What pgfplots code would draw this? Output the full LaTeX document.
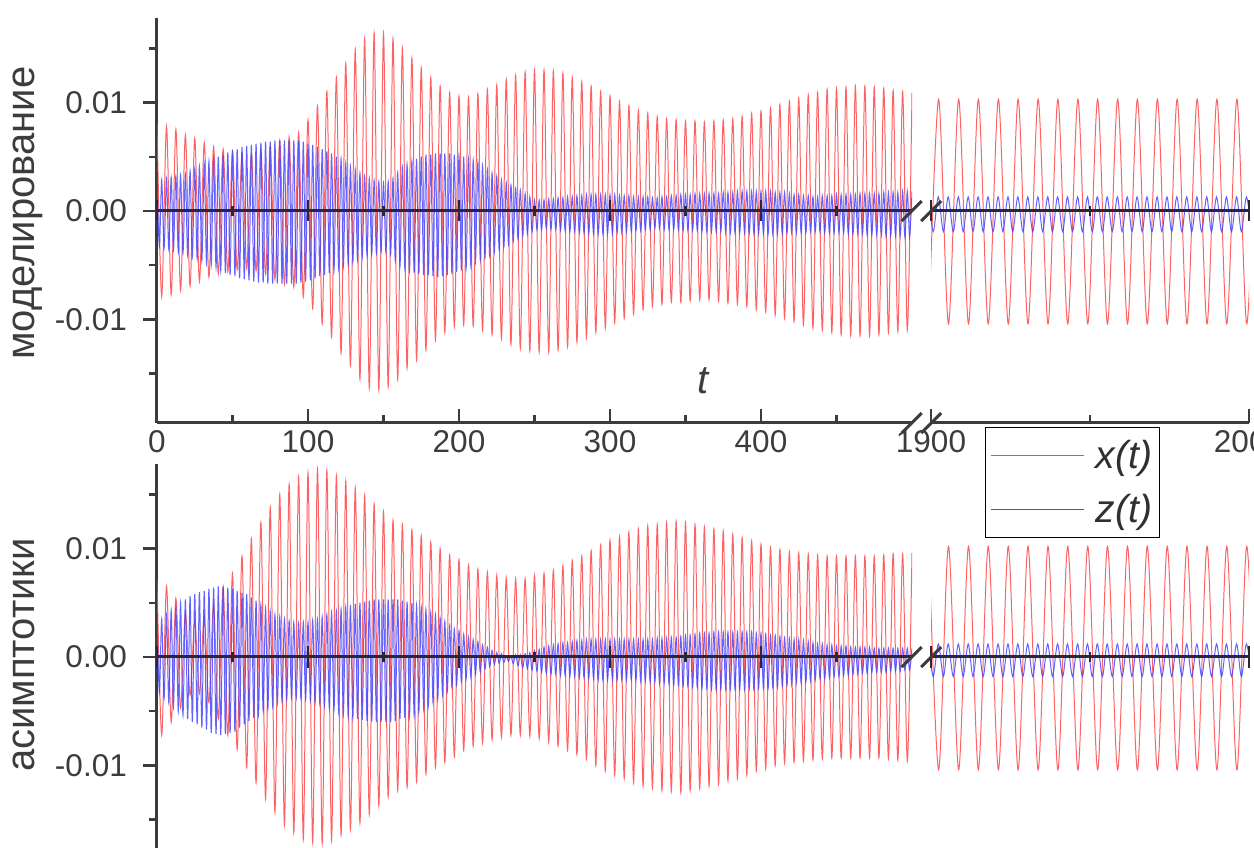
\documentclass[border=0pt]{standalone}
\usepackage{fontspec}
\setmainfont{Liberation Sans}
\usepackage{pgfplots}
\pgfplotsset{compat=1.18}
\definecolor{xred}{RGB}{255,70,70}
\definecolor{zblue}{RGB}{70,70,255}
\definecolor{axcol}{RGB}{60,60,60}
\definecolor{zerocol}{RGB}{40,40,55}
\pgfplotsset{
  seg/.style={scale only axis, height=405pt, ymin=-19.54, ymax=17.79, clip=true},
  frame/.style={seg, axis x line*=bottom, xtick pos=bottom, xtick align=inside,
    x axis line style={-, line width=3pt, color=axcol},
    y axis line style={-, line width=3pt, color=axcol},
    major tick length=14pt, minor tick length=8pt,
    tick style={line width=2.5pt, color=axcol},
    tick label style={font=\fontsize{31.5}{36}\selectfont, color=axcol},
    /pgf/number format/assume math mode=true, /pgf/number format/1000 sep={},
    xticklabel style={inner sep=0pt, yshift=-7pt}},
  frameL/.style={frame, width=755pt, xmin=0, xmax=500,
    axis y line*=left, ytick pos=left, ytick align=outside,
    xtick={0,100,...,400}, minor xtick={50,150,...,450},
    ytick={-10,0,10}, yticklabels={-0.01,0.00,0.01}, minor ytick={-15,-5,5,15},
    yticklabel style={inner sep=0pt, xshift=-16pt},
    ylabel style={font=\fontsize{40}{44}\selectfont, color=axcol, anchor=base}},
  frameR/.style={frame, width=318pt, xmin=1900, xmax=2000, axis y line=none,
    ytick=\empty, xtick={1900,2000}, minor xtick={1950}},
  data/.style={seg, axis x line*=middle, axis y line=none, axis on top,
    ytick=\empty, xticklabels=\empty, xtick align=center,
    major tick length=21pt, minor tick length=10pt,
    x axis line style={-, line width=3pt, color=zerocol},
    tick style={line width=2.5pt, color=zerocol}},
  dataL/.style={data, width=755pt, xmin=0, xmax=500,
    xtick={0,100,...,400}, minor xtick={50,150,...,450}},
  dataR/.style={data, width=318pt, xmin=1900, xmax=2000,
    xtick={1900,2000}, minor xtick={1950}},
  xr/.style={xred, line width=1pt, smooth, mark=none, draw opacity=0.85},
  zb/.style={zblue, line width=1pt, smooth, mark=none, draw opacity=0.85},
}
\begin{document}
\begin{tikzpicture}
\useasboundingbox (0,0) rectangle (1254pt,848pt);
\clip (0,0) rectangle (1254pt,848pt);

%================ BOTTOM PANEL (asymptotics) ================
\begin{axis}[frameL, at={(157pt,-21pt)}, anchor=south west, xticklabels=\empty,
  ylabel={асимптотики}, ylabel style={at={(axis description cs:-0.1616,0.528)}}]
\end{axis}
\begin{axis}[frameR, at={(931pt,-21pt)}, anchor=south west, xticklabels=\empty]
\end{axis}
\begin{axis}[dataL, at={(157pt,-21pt)}, anchor=south west]
\addplot[xr] coordinates {
(0,7)(3.1,-7.2)(6.3,6.5)(9.4,-6)(12.5,5.4)(15.6,-4.7)(18.8,4.1)(21.9,-3.5)
(25,3.3)(28.1,-3.4)(31.3,3.8)(34.4,-4.2)(37.5,4.9)(40.6,-5.7)(43.8,6.5)(46.9,-7.2)
(50,7.7)(53.1,-8.5)(56.3,9.3)(59.4,-10.2)(62.5,10.9)(65.6,-11.6)(68.8,12.4)(71.9,-13.1)
(75,13.8)(78.1,-14.3)(81.3,15)(84.4,-15.5)(87.5,15.9)(90.6,-16.2)(93.8,16.6)(96.9,-16.8)
(100,17)(103.1,-17.1)(106.3,17.3)(109.4,-17.2)(112.5,17.2)(115.6,-16.9)(118.8,16.7)(121.9,-16.4)
(125,16.2)(128.1,-15.9)(131.3,15.6)(134.4,-15.3)(137.5,14.9)(140.6,-14.5)(143.8,14.1)(146.9,-13.7)
(150,13.4)(153.1,-12.9)(156.3,12.6)(159.4,-12.3)(162.5,12.2)(165.6,-12)(168.8,11.7)(171.9,-11.5)
(175,11.2)(178.1,-10.8)(181.3,10.6)(184.4,-10.2)(187.5,10)(190.6,-9.7)(193.8,9.4)(196.9,-9.2)
(200,9)(203.1,-8.6)(206.3,8.5)(209.4,-8.2)(212.5,8.1)(215.6,-7.9)(218.8,7.8)(221.9,-7.6)
(225,7.5)(228.1,-7.4)(231.3,7.3)(234.4,-7.2)(237.5,7.2)(240.6,-7.2)(243.8,7.2)(246.9,-7.3)
(250,7.5)(253.1,-7.5)(256.3,7.7)(259.4,-7.8)(262.5,8)(265.6,-8.2)(268.8,8.4)(271.9,-8.6)
(275,8.9)(278.1,-9)(281.3,9.3)(284.4,-9.4)(287.5,9.8)(290.6,-10)(293.8,10.3)(296.9,-10.5)
(300,10.8)(303.1,-10.9)(306.3,11.1)(309.4,-11.2)(312.5,11.5)(315.6,-11.6)(318.8,11.8)(321.9,-11.9)
(325,12.1)(328.1,-12.1)(331.3,12.2)(334.4,-12.3)(337.5,12.4)(340.6,-12.4)(343.8,12.5)(346.9,-12.5)
(350,12.4)(353.1,-12.3)(356.3,12.2)(359.4,-12.1)(362.5,12)(365.6,-11.9)(368.8,11.8)(371.9,-11.7)
(375,11.6)(378.1,-11.4)(381.3,11.3)(384.4,-11.2)(387.5,11)(390.6,-10.9)(393.8,10.7)(396.9,-10.5)
(400,10.4)(403.1,-10.3)(406.3,10.1)(409.4,-10)(412.5,9.9)(415.6,-9.8)(418.8,9.7)(421.9,-9.7)
(425,9.6)(428.1,-9.6)(431.3,9.5)(434.4,-9.5)(437.5,9.4)(440.6,-9.4)(443.8,9.3)(446.9,-9.3)
(450,9.3)(453.1,-9.3)(456.3,9.3)(459.4,-9.3)(462.5,9.3)(465.6,-9.3)(468.8,9.3)(471.9,-9.3)
(475,9.3)(478.1,-9.3)(481.3,9.4)(484.4,-9.4)(487.5,9.5)(490.6,-9.5)(493.8,9.5)(496.9,-9.6)
(500,9.6)};
\addplot[zb] coordinates {
(0,3.2)(1.6,-3.3)(3.1,3.5)(4.7,-3.8)(6.3,3.9)(7.8,-4.2)(9.4,4.3)(10.9,-4.6)
(12.5,4.6)(14.1,-5)(15.6,5)(17.2,-5.4)(18.8,5.3)(20.3,-5.7)(21.9,5.6)(23.4,-6)
(25,5.8)(26.6,-6.2)(28.1,6)(29.7,-6.5)(31.3,6.1)(32.8,-6.7)(34.4,6.3)(35.9,-7)
(37.5,6.4)(39.1,-7.1)(40.6,6.5)(42.2,-7.2)(43.8,6.5)(45.3,-7.1)(46.9,6.4)(48.4,-7)
(50,6.3)(51.6,-6.9)(53.1,6.1)(54.7,-6.5)(56.3,5.9)(57.8,-6.2)(59.4,5.8)(60.9,-5.9)
(62.5,5.5)(64.1,-5.6)(65.6,5.2)(67.2,-5.3)(68.8,4.8)(70.3,-5)(71.9,4.5)(73.4,-4.8)
(75,4.2)(76.6,-4.5)(78.1,3.9)(79.7,-4.3)(81.3,3.7)(82.8,-4.1)(84.4,3.5)(85.9,-3.9)
(87.5,3.3)(89.1,-3.8)(90.6,3.2)(92.2,-3.8)(93.8,3.1)(95.3,-3.8)(96.9,3.2)(98.4,-3.9)
(100,3.2)(101.6,-4)(103.1,3.4)(104.7,-4.2)(106.3,3.5)(107.8,-4.3)(109.4,3.7)(110.9,-4.5)
(112.5,3.9)(114.1,-4.7)(115.6,4.1)(117.2,-4.9)(118.8,4.2)(120.3,-5.1)(121.9,4.4)(123.4,-5.3)
(125,4.6)(126.6,-5.5)(128.1,4.8)(129.7,-5.6)(131.3,4.9)(132.8,-5.7)(134.4,5)(135.9,-5.8)
(137.5,5.1)(139.1,-5.9)(140.6,5.2)(142.2,-5.9)(143.8,5.3)(145.3,-6)(146.9,5.3)(148.4,-6)
(150,5.3)(151.6,-6)(153.1,5.3)(154.7,-6)(156.3,5.3)(157.8,-5.9)(159.4,5.3)(160.9,-5.7)
(162.5,5.2)(164.1,-5.6)(165.6,5.1)(167.2,-5.5)(168.8,5)(170.3,-5.4)(171.9,4.8)(173.4,-5.1)
(175,4.6)(176.6,-4.8)(178.1,4.4)(179.7,-4.5)(181.3,4.1)(182.8,-4.2)(184.4,3.9)(185.9,-3.9)
(187.5,3.6)(189.1,-3.5)(190.6,3.3)(192.2,-3.2)(193.8,2.9)(195.3,-2.8)(196.9,2.6)(198.4,-2.6)
(200,2.4)(201.6,-2.3)(203.1,2.1)(204.7,-2)(206.3,1.8)(207.8,-1.8)(209.4,1.6)(210.9,-1.6)
(212.5,1.4)(214.1,-1.4)(215.6,1.1)(217.2,-1.1)(218.8,0.9)(220.3,-0.9)(221.9,0.6)(223.4,-0.7)
(225,0.4)(226.6,-0.6)(228.1,0.3)(229.7,-0.5)(231.3,0.1)(232.8,-0.4)(234.4,0.1)(235.9,-0.6)
(237.5,0.2)(239.1,-0.8)(240.6,0.2)(242.2,-1)(243.8,0.3)(245.3,-1.1)(246.9,0.4)(248.4,-1.2)
(250,0.6)(251.6,-1.3)(253.1,0.7)(254.7,-1.4)(256.3,0.9)(257.8,-1.5)(259.4,1)(260.9,-1.6)
(262.5,1.1)(264.1,-1.6)(265.6,1.2)(267.2,-1.7)(268.8,1.3)(270.3,-1.7)(271.9,1.3)(273.4,-1.8)
(275,1.4)(276.6,-1.8)(278.1,1.5)(279.7,-1.9)(281.3,1.5)(282.8,-1.9)(284.4,1.6)(285.9,-2)
(287.5,1.6)(289.1,-2)(290.6,1.6)(292.2,-2.1)(293.8,1.6)(295.3,-2.1)(296.9,1.6)(298.4,-2.1)
(300,1.6)(301.6,-2.1)(303.1,1.6)(304.7,-2.1)(306.3,1.6)(307.8,-2.1)(309.4,1.6)(310.9,-2.1)
(312.5,1.6)(314.1,-2.1)(315.6,1.6)(317.2,-2.1)(318.8,1.6)(320.3,-2.2)(321.9,1.6)(323.4,-2.2)
(325,1.6)(326.6,-2.3)(328.1,1.6)(329.7,-2.3)(331.3,1.7)(332.8,-2.4)(334.4,1.7)(335.9,-2.4)
(337.5,1.7)(339.1,-2.5)(340.6,1.8)(342.2,-2.6)(343.8,1.8)(345.3,-2.6)(346.9,1.9)(348.4,-2.7)
(350,2)(351.6,-2.7)(353.1,2)(354.7,-2.8)(356.3,2.1)(357.8,-2.8)(359.4,2.2)(360.9,-2.9)
(362.5,2.2)(364.1,-2.9)(365.6,2.2)(367.2,-3)(368.8,2.3)(370.3,-3)(371.9,2.3)(373.4,-3)
(375,2.3)(376.6,-3)(378.1,2.3)(379.7,-3)(381.3,2.3)(382.8,-3)(384.4,2.3)(385.9,-3)
(387.5,2.3)(389.1,-3)(390.6,2.3)(392.2,-3)(393.8,2.3)(395.3,-3)(396.9,2.2)(398.4,-2.9)
(400,2.2)(401.6,-2.9)(403.1,2.1)(404.7,-2.9)(406.3,2)(407.8,-2.8)(409.4,2)(410.9,-2.8)
(412.5,1.9)(414.1,-2.7)(415.6,1.8)(417.2,-2.6)(418.8,1.7)(420.3,-2.5)(421.9,1.6)(423.4,-2.4)
(425,1.6)(426.6,-2.4)(428.1,1.5)(429.7,-2.3)(431.3,1.4)(432.8,-2.2)(434.4,1.3)(435.9,-2.1)
(437.5,1.2)(439.1,-2)(440.6,1.2)(442.2,-2)(443.8,1.1)(445.3,-1.9)(446.9,1.1)(448.4,-1.8)
(450,1)(451.6,-1.8)(453.1,1)(454.7,-1.7)(456.3,1)(457.8,-1.7)(459.4,0.9)(460.9,-1.6)
(462.5,0.9)(464.1,-1.6)(465.6,0.9)(467.2,-1.5)(468.8,0.9)(470.3,-1.5)(471.9,0.9)(473.4,-1.4)
(475,0.8)(476.6,-1.4)(478.1,0.8)(479.7,-1.4)(481.3,0.8)(482.8,-1.4)(484.4,0.8)(485.9,-1.3)
(487.5,0.8)(489.1,-1.3)(490.6,0.8)(492.2,-1.3)(493.8,0.8)(495.3,-1.2)(496.9,0.8)(498.4,-1.2)
(500,0.8)};
\end{axis}
\begin{axis}[dataR, at={(931pt,-21pt)}, anchor=south west]
\addplot[xr] coordinates {
(1899.3,10.2)(1902.4,-10.4)(1905.5,10.2)(1908.7,-10.4)(1911.8,10.2)(1914.9,-10.4)(1918,10.2)(1921.2,-10.4)
(1924.3,10.2)(1927.4,-10.4)(1930.5,10.2)(1933.7,-10.4)(1936.8,10.2)(1939.9,-10.4)(1943,10.2)(1946.2,-10.4)
(1949.3,10.2)(1952.4,-10.4)(1955.5,10.2)(1958.7,-10.4)(1961.8,10.2)(1964.9,-10.4)(1968,10.2)(1971.2,-10.4)
(1974.3,10.2)(1977.4,-10.4)(1980.5,10.2)(1983.7,-10.4)(1986.8,10.2)(1989.9,-10.4)(1993,10.2)(1996.2,-10.4)
(1999.3,10.2)(2002.4,-10.4)};
\addplot[zb] coordinates {
(1899.2,1.2)(1900.7,-1.8)(1902.3,1.2)(1903.9,-1.8)(1905.4,1.2)(1907,-1.8)(1908.6,1.2)(1910.1,-1.8)
(1911.7,1.2)(1913.2,-1.8)(1914.8,1.2)(1916.4,-1.8)(1917.9,1.2)(1919.5,-1.8)(1921.1,1.2)(1922.6,-1.8)
(1924.2,1.2)(1925.7,-1.8)(1927.3,1.2)(1928.9,-1.8)(1930.4,1.2)(1932,-1.8)(1933.6,1.2)(1935.1,-1.8)
(1936.7,1.2)(1938.2,-1.8)(1939.8,1.2)(1941.4,-1.8)(1942.9,1.2)(1944.5,-1.8)(1946.1,1.2)(1947.6,-1.8)
(1949.2,1.2)(1950.7,-1.8)(1952.3,1.2)(1953.9,-1.8)(1955.4,1.2)(1957,-1.8)(1958.6,1.2)(1960.1,-1.8)
(1961.7,1.2)(1963.2,-1.8)(1964.8,1.2)(1966.4,-1.8)(1967.9,1.2)(1969.5,-1.8)(1971.1,1.2)(1972.6,-1.8)
(1974.2,1.2)(1975.7,-1.8)(1977.3,1.2)(1978.9,-1.8)(1980.4,1.2)(1982,-1.8)(1983.6,1.2)(1985.1,-1.8)
(1986.7,1.2)(1988.2,-1.8)(1989.8,1.2)(1991.4,-1.8)(1992.9,1.2)(1994.5,-1.8)(1996.1,1.2)(1997.6,-1.8)
(1999.2,1.2)(2000.8,-1.8)};
\end{axis}

%================ TOP PANEL (simulation) ================
\begin{axis}[frameL, at={(157pt,425pt)}, anchor=south west,
  ylabel={моделирование}, ylabel style={at={(axis description cs:-0.1616,0.518)}},
  xlabel={\textit{t}}, xlabel style={at={(axis description cs:0.7245,0.1037)}, anchor=center,
    font=\fontsize{40}{44}\selectfont, color=axcol}]
\end{axis}
\begin{axis}[frameR, at={(931pt,425pt)}, anchor=south west]
\end{axis}
\begin{axis}[dataL, at={(157pt,425pt)}, anchor=south west]
\addplot[xr] coordinates {
(0,8)(3.1,-7.9)(6.3,7.8)(9.4,-7.7)(12.5,7.5)(15.6,-7.3)(18.8,7)(21.9,-6.9)
(25,6.7)(28.1,-6.5)(31.3,6.3)(34.4,-6.1)(37.5,5.9)(40.6,-5.8)(43.8,5.7)(46.9,-5.6)
(50,5.5)(53.1,-5.4)(56.3,5.3)(59.4,-5.3)(62.5,5.3)(65.6,-5.5)(68.8,5.7)(71.9,-5.8)
(75,6)(78.1,-6.3)(81.3,6.5)(84.4,-6.7)(87.5,6.8)(90.6,-7)(93.8,7.2)(96.9,-7.9)
(100,8.4)(103.1,-9)(106.3,9.7)(109.4,-10.4)(112.5,11)(115.6,-11.6)(118.8,12.3)(121.9,-13.1)
(125,13.6)(128.1,-14.2)(131.3,14.9)(134.4,-15.5)(137.5,15.9)(140.6,-16.3)(143.8,16.4)(146.9,-16.5)
(150,16.4)(153.1,-16.2)(156.3,15.9)(159.4,-15.5)(162.5,15)(165.6,-14.5)(168.8,14.1)(171.9,-13.7)
(175,13.2)(178.1,-12.8)(181.3,12.3)(184.4,-11.9)(187.5,11.5)(190.6,-11.2)(193.8,10.9)(196.9,-10.7)
(200,10.6)(203.1,-10.5)(206.3,10.5)(209.4,-10.6)(212.5,10.8)(215.6,-11)(218.8,11.2)(221.9,-11.4)
(225,11.6)(228.1,-11.8)(231.3,12.1)(234.4,-12.3)(237.5,12.5)(240.6,-12.7)(243.8,12.8)(246.9,-12.9)
(250,13)(253.1,-13)(256.3,13)(259.4,-13)(262.5,12.9)(265.6,-12.8)(268.8,12.7)(271.9,-12.5)
(275,12.3)(278.1,-12.1)(281.3,11.9)(284.4,-11.7)(287.5,11.5)(290.6,-11.2)(293.8,11)(296.9,-10.8)
(300,10.6)(303.1,-10.3)(306.3,10.1)(309.4,-9.9)(312.5,9.7)(315.6,-9.5)(318.8,9.3)(321.9,-9.1)
(325,9)(328.1,-8.8)(331.3,8.7)(334.4,-8.6)(337.5,8.5)(340.6,-8.4)(343.8,8.4)(346.9,-8.4)
(350,8.3)(353.1,-8.3)(356.3,8.3)(359.4,-8.2)(362.5,8.2)(365.6,-8.2)(368.8,8.3)(371.9,-8.3)
(375,8.4)(378.1,-8.5)(381.3,8.5)(384.4,-8.6)(387.5,8.7)(390.6,-8.8)(393.8,9)(396.9,-9.1)
(400,9.2)(403.1,-9.3)(406.3,9.5)(409.4,-9.6)(412.5,9.8)(415.6,-9.9)(418.8,10.1)(421.9,-10.2)
(425,10.4)(428.1,-10.5)(431.3,10.7)(434.4,-10.8)(437.5,10.9)(440.6,-11)(443.8,11.2)(446.9,-11.2)
(450,11.3)(453.1,-11.4)(456.3,11.4)(459.4,-11.5)(462.5,11.5)(465.6,-11.5)(468.8,11.5)(471.9,-11.5)
(475,11.4)(478.1,-11.4)(481.3,11.3)(484.4,-11.2)(487.5,11.1)(490.6,-11.1)(493.8,11)(496.9,-11)
(500,10.9)};
\addplot[zb] coordinates {
(0,2.8)(1.6,-3.3)(3.1,2.9)(4.7,-3.4)(6.3,3)(7.8,-3.5)(9.4,3.1)(10.9,-3.6)
(12.5,3.2)(14.1,-3.8)(15.6,3.3)(17.2,-3.9)(18.8,3.4)(20.3,-4.1)(21.9,3.7)(23.4,-4.2)
(25,3.9)(26.6,-4.4)(28.1,4.1)(29.7,-4.6)(31.3,4.3)(32.8,-4.8)(34.4,4.6)(35.9,-5)
(37.5,4.8)(39.1,-5.2)(40.6,5)(42.2,-5.5)(43.8,5.2)(45.3,-5.7)(46.9,5.4)(48.4,-5.9)
(50,5.6)(51.6,-6)(53.1,5.7)(54.7,-6.2)(56.3,5.9)(57.8,-6.3)(59.4,6)(60.9,-6.4)
(62.5,6.1)(64.1,-6.5)(65.6,6.2)(67.2,-6.6)(68.8,6.3)(70.3,-6.6)(71.9,6.4)(73.4,-6.7)
(75,6.4)(76.6,-6.7)(78.1,6.5)(79.7,-6.7)(81.3,6.5)(82.8,-6.7)(84.4,6.5)(85.9,-6.7)
(87.5,6.5)(89.1,-6.7)(90.6,6.5)(92.2,-6.7)(93.8,6.5)(95.3,-6.6)(96.9,6.4)(98.4,-6.5)
(100,6.2)(101.6,-6.4)(103.1,6.1)(104.7,-6.2)(106.3,5.9)(107.8,-6)(109.4,5.7)(110.9,-5.9)
(112.5,5.5)(114.1,-5.7)(115.6,5.3)(117.2,-5.5)(118.8,5)(120.3,-5.3)(121.9,4.8)(123.4,-5.1)
(125,4.4)(126.6,-4.9)(128.1,4.1)(129.7,-4.7)(131.3,3.8)(132.8,-4.5)(134.4,3.5)(135.9,-4.3)
(137.5,3.2)(139.1,-4.1)(140.6,3)(142.2,-4)(143.8,2.8)(145.3,-3.9)(146.9,2.7)(148.4,-3.8)
(150,2.6)(151.6,-3.8)(153.1,2.7)(154.7,-4)(156.3,3)(157.8,-4.6)(159.4,3.5)(160.9,-5.1)
(162.5,4)(164.1,-5.3)(165.6,4.3)(167.2,-5.5)(168.8,4.6)(170.3,-5.7)(171.9,4.8)(173.4,-5.8)
(175,5)(176.6,-5.9)(178.1,5.2)(179.7,-5.9)(181.3,5.2)(182.8,-6)(184.4,5.3)(185.9,-6.1)
(187.5,5.3)(189.1,-6)(190.6,5.3)(192.2,-5.9)(193.8,5.3)(195.3,-5.8)(196.9,5.2)(198.4,-5.6)
(200,5.1)(201.6,-5.5)(203.1,5)(204.7,-5.3)(206.3,4.8)(207.8,-5)(209.4,4.7)(210.9,-4.7)
(212.5,4.5)(214.1,-4.5)(215.6,4.2)(217.2,-4.3)(218.8,3.8)(220.3,-4.1)(221.9,3.5)(223.4,-3.8)
(225,3.2)(226.6,-3.6)(228.1,2.9)(229.7,-3.3)(231.3,2.6)(232.8,-3.1)(234.4,2.4)(235.9,-2.8)
(237.5,2.1)(239.1,-2.6)(240.6,1.9)(242.2,-2.3)(243.8,1.6)(245.3,-2.1)(246.9,1.3)(248.4,-1.9)
(250,1)(251.6,-1.7)(253.1,1)(254.7,-1.7)(256.3,1)(257.8,-1.6)(259.4,1.1)(260.9,-1.7)
(262.5,1.1)(264.1,-1.7)(265.6,1.2)(267.2,-1.8)(268.8,1.2)(270.3,-1.8)(271.9,1.3)(273.4,-1.9)
(275,1.3)(276.6,-1.9)(278.1,1.4)(279.7,-2)(281.3,1.4)(282.8,-2)(284.4,1.5)(285.9,-2.1)
(287.5,1.5)(289.1,-2.1)(290.6,1.5)(292.2,-2.1)(293.8,1.5)(295.3,-2.1)(296.9,1.5)(298.4,-2.1)
(300,1.5)(301.6,-2.1)(303.1,1.5)(304.7,-2)(306.3,1.4)(307.8,-2)(309.4,1.4)(310.9,-1.9)
(312.5,1.4)(314.1,-1.9)(315.6,1.3)(317.2,-1.8)(318.8,1.3)(320.3,-1.8)(321.9,1.3)(323.4,-1.7)
(325,1.3)(326.6,-1.7)(328.1,1.2)(329.7,-1.6)(331.3,1.2)(332.8,-1.6)(334.4,1.3)(335.9,-1.7)
(337.5,1.3)(339.1,-1.7)(340.6,1.4)(342.2,-1.7)(343.8,1.4)(345.3,-1.7)(346.9,1.5)(348.4,-1.8)
(350,1.5)(351.6,-1.8)(353.1,1.5)(354.7,-1.8)(356.3,1.6)(357.8,-1.8)(359.4,1.6)(360.9,-1.9)
(362.5,1.6)(364.1,-1.9)(365.6,1.6)(367.2,-1.9)(368.8,1.6)(370.3,-1.9)(371.9,1.6)(373.4,-1.9)
(375,1.7)(376.6,-2)(378.1,1.7)(379.7,-2)(381.3,1.7)(382.8,-2)(384.4,1.8)(385.9,-2)
(387.5,1.8)(389.1,-2)(390.6,1.8)(392.2,-2.1)(393.8,1.8)(395.3,-2.1)(396.9,1.8)(398.4,-2.1)
(400,1.8)(401.6,-2.1)(403.1,1.8)(404.7,-2.1)(406.3,1.8)(407.8,-2.1)(409.4,1.7)(410.9,-2.1)
(412.5,1.7)(414.1,-2.1)(415.6,1.7)(417.2,-2)(418.8,1.6)(420.3,-2)(421.9,1.5)(423.4,-2)
(425,1.5)(426.6,-2)(428.1,1.4)(429.7,-2)(431.3,1.4)(432.8,-1.9)(434.4,1.3)(435.9,-1.9)
(437.5,1.3)(439.1,-1.9)(440.6,1.4)(442.2,-2)(443.8,1.4)(445.3,-2)(446.9,1.4)(448.4,-2)
(450,1.5)(451.6,-2)(453.1,1.5)(454.7,-2)(456.3,1.5)(457.8,-2.1)(459.4,1.5)(460.9,-2.1)
(462.5,1.5)(464.1,-2.1)(465.6,1.6)(467.2,-2.1)(468.8,1.6)(470.3,-2.2)(471.9,1.6)(473.4,-2.2)
(475,1.6)(476.6,-2.2)(478.1,1.6)(479.7,-2.2)(481.3,1.7)(482.8,-2.3)(484.4,1.7)(485.9,-2.3)
(487.5,1.7)(489.1,-2.3)(490.6,1.7)(492.2,-2.3)(493.8,1.8)(495.3,-2.4)(496.9,1.8)(498.4,-2.4)
(500,1.8)};
\end{axis}
\begin{axis}[dataR, at={(931pt,425pt)}, anchor=south west,
  legend style={at={(0.1698,-0.0099)}, anchor=north west, draw=black, line width=1.2pt,
    fill=white, inner xsep=5pt, inner ysep=11pt, row sep=20pt,
    font=\fontsize{39}{40}\selectfont, text=axcol!80!black, cells={anchor=west},
    nodes={inner sep=2pt},
    /tikz/every odd column/.append style={column sep=9pt}},
  legend image code/.code={\draw[#1, line width=1.3pt, draw opacity=1] (0pt,0pt) -- (93pt,0pt);}]
\addplot[xr] coordinates {
(1899.3,-10.4)(1902.4,10.3)(1905.5,-10.4)(1908.7,10.3)(1911.8,-10.4)(1914.9,10.3)(1918,-10.4)(1921.2,10.3)
(1924.3,-10.4)(1927.4,10.3)(1930.5,-10.4)(1933.7,10.3)(1936.8,-10.4)(1939.9,10.3)(1943,-10.4)(1946.2,10.3)
(1949.3,-10.4)(1952.4,10.3)(1955.5,-10.4)(1958.7,10.3)(1961.8,-10.4)(1964.9,10.3)(1968,-10.4)(1971.2,10.3)
(1974.3,-10.4)(1977.4,10.3)(1980.5,-10.4)(1983.7,10.3)(1986.8,-10.4)(1989.9,10.3)(1993,-10.4)(1996.2,10.3)
(1999.3,-10.4)(2002.4,10.3)};
\addlegendentry{\textit{x(t)}}
\addplot[zb] coordinates {
(1899.2,1.3)(1900.7,-1.9)(1902.3,1.3)(1903.9,-1.9)(1905.4,1.3)(1907,-1.9)(1908.6,1.3)(1910.1,-1.9)
(1911.7,1.3)(1913.2,-1.9)(1914.8,1.3)(1916.4,-1.9)(1917.9,1.3)(1919.5,-1.9)(1921.1,1.3)(1922.6,-1.9)
(1924.2,1.3)(1925.7,-1.9)(1927.3,1.3)(1928.9,-1.9)(1930.4,1.3)(1932,-1.9)(1933.6,1.3)(1935.1,-1.9)
(1936.7,1.3)(1938.2,-1.9)(1939.8,1.3)(1941.4,-1.9)(1942.9,1.3)(1944.5,-1.9)(1946.1,1.3)(1947.6,-1.9)
(1949.2,1.3)(1950.7,-1.9)(1952.3,1.3)(1953.9,-1.9)(1955.4,1.3)(1957,-1.9)(1958.6,1.3)(1960.1,-1.9)
(1961.7,1.3)(1963.2,-1.9)(1964.8,1.3)(1966.4,-1.9)(1967.9,1.3)(1969.5,-1.9)(1971.1,1.3)(1972.6,-1.9)
(1974.2,1.3)(1975.7,-1.9)(1977.3,1.3)(1978.9,-1.9)(1980.4,1.3)(1982,-1.9)(1983.6,1.3)(1985.1,-1.9)
(1986.7,1.3)(1988.2,-1.9)(1989.8,1.3)(1991.4,-1.9)(1992.9,1.3)(1994.5,-1.9)(1996.1,1.3)(1997.6,-1.9)
(1999.2,1.3)(2000.8,-1.9)};
\addlegendentry{\textit{z(t)}}
\end{axis}

% axis break marks
\begin{scope}[axcol, line width=3pt]
\foreach \yy in {637,425,191}{
  \draw (901.7pt,\yy pt-10pt) -- (921.7pt,\yy pt+10pt);
  \draw (921.2pt,\yy pt-10pt) -- (941.2pt,\yy pt+10pt);
}
\end{scope}
\end{tikzpicture}
\end{document}
